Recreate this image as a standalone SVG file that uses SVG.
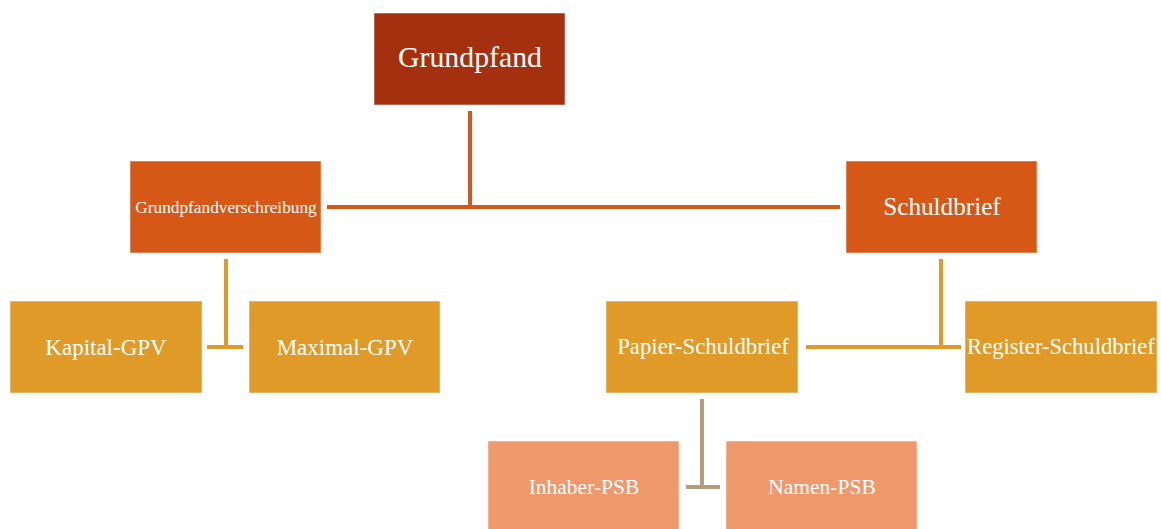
<svg xmlns="http://www.w3.org/2000/svg" width="1161" height="529" viewBox="0 0 1161 529">
<style>
.box{stroke:#ffffff;stroke-opacity:0.5;stroke-width:1}
.l0{fill:#A5300F}
.l1{fill:#D55817}
.l2{fill:#E09A28}
.l3{fill:#EF986C}
text{font-family:"Liberation Serif","DejaVu Serif",serif;fill:#ffffff;text-anchor:middle}
.c1{stroke:#D55817;stroke-width:4;fill:none}
.c2{stroke:#E09A28;stroke-width:4;fill:none}
.c3{stroke:#B49C7C;stroke-width:4;fill:none}
</style>
<rect width="1161" height="529" fill="#ffffff"/>
<g id="connectors">
<path class="c1" d="M470 111V207M327 207H840"/>
<path class="c2" d="M226 259V347M207 347H243"/>
<path class="c2" d="M941 259V347M806 347H961"/>
<path class="c3" d="M702 399V487M686 487H720"/>
</g>
<g id="grundpfand"><rect class="box l0" x="374" y="13" width="191" height="92"/><text x="470" y="67" font-size="29.8">Grundpfand</text></g>
<g id="grundpfandverschreibung"><rect class="box l1" x="130" y="161" width="191" height="92"/><text x="226" y="213" font-size="17.3">Grundpfandverschreibung</text></g>
<g id="schuldbrief"><rect class="box l1" x="846" y="161" width="191" height="92"/><text x="942" y="215" font-size="25.2">Schuldbrief</text></g>
<g id="kapital-gpv"><rect class="box l2" x="10" y="301" width="192" height="92"/><text x="106" y="355" font-size="23">Kapital-GPV</text></g>
<g id="maximal-gpv"><rect class="box l2" x="249" y="301" width="191" height="92"/><text x="345" y="355" font-size="23">Maximal-GPV</text></g>
<g id="papier-schuldbrief"><rect class="box l2" x="606" y="301" width="192" height="92"/><text x="703" y="354" font-size="22.8">Papier-Schuldbrief</text></g>
<g id="register-schuldbrief"><rect class="box l2" x="965" y="301" width="192" height="92"/><text x="1061" y="354" font-size="22.6">Register-Schuldbrief</text></g>
<g id="inhaber-psb"><rect class="box l3" x="488" y="441" width="191" height="92"/><text x="584" y="494" font-size="21.5">Inhaber-PSB</text></g>
<g id="namen-psb"><rect class="box l3" x="726" y="441" width="191" height="92"/><text x="822" y="494" font-size="21.5">Namen-PSB</text></g>
</svg>
